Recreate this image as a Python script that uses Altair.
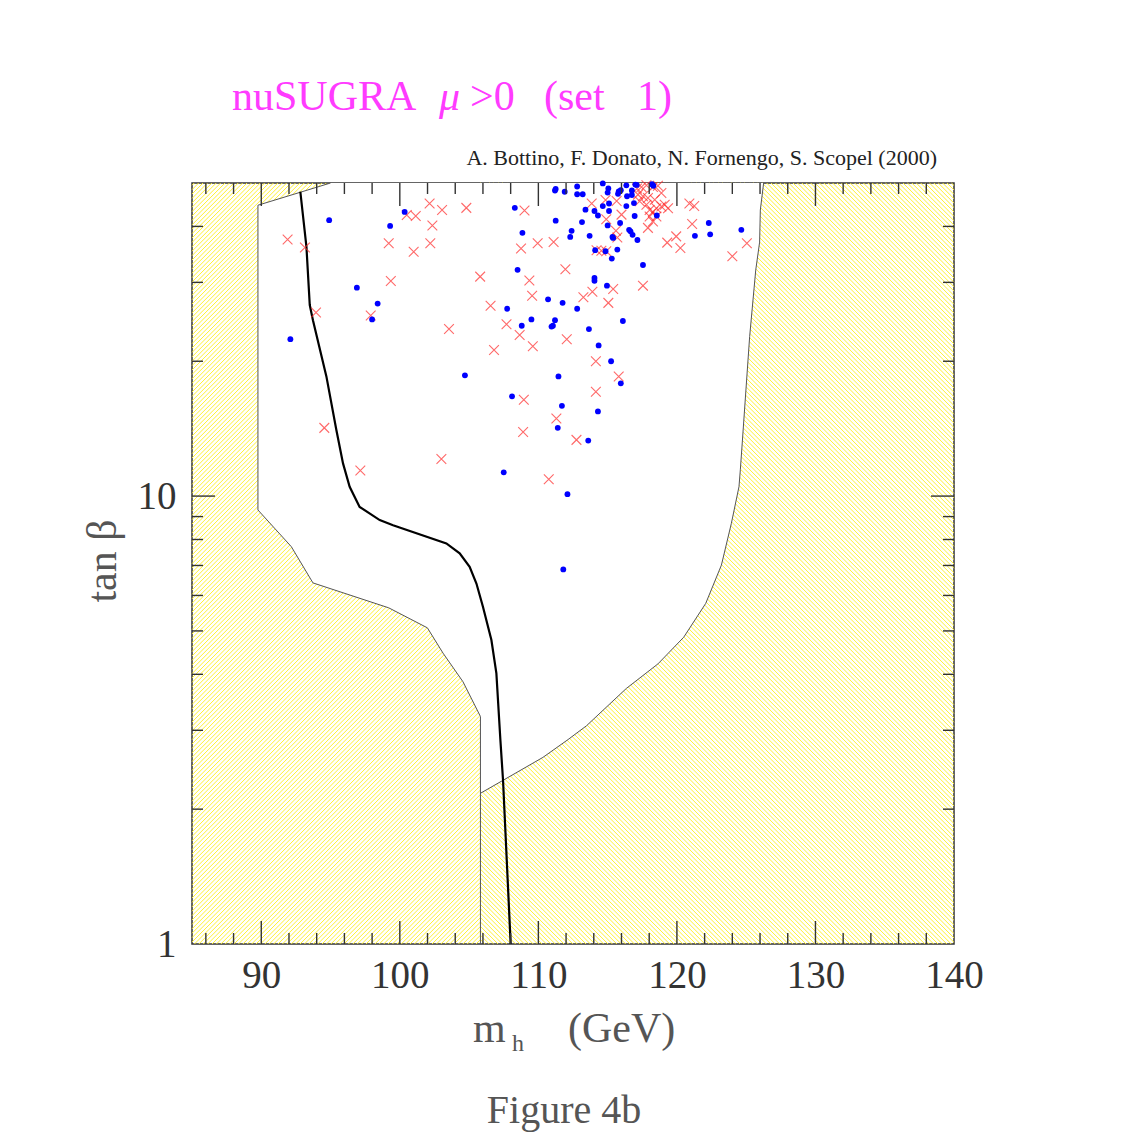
import altair as alt
import pandas as pd
import numpy as np

# ---------------- data ----------------
# blue dots (m_h [GeV], tan beta)
blue_mh = [94.9, 100.35, 99.3, 96.9, 98.4, 98.0, 92.1, 104.7, 108.3, 111.25,
           108.85, 112.4, 112.3, 108.5, 110.7, 111.75, 107.75, 112.8, 109.5, 108.8,
           111.2, 111.05, 110.95, 111.45, 108.1, 111.7, 111.4, 111.2, 111.25, 111.9,
           112.8, 112.8, 113.2, 114.65, 115.05, 115.0, 115.8, 115.75, 115.95, 116.35,
           116.75, 116.75, 116.4, 117.0, 117.1, 118.3, 118.2, 114.65, 115.1, 116.35,
           116.9, 113.4, 114.05, 114.3, 115.1, 116.95, 118.55, 113.15, 115.0, 115.9,
           113.7, 115.35, 115.4, 116.55, 116.65, 116.8, 117.15, 114.1, 114.85, 115.7,
           115.3, 117.55, 114.05, 114.05, 114.95, 113.65, 116.1, 114.35, 115.25, 115.95,
           114.3, 113.6, 122.3, 122.4, 121.3, 124.65, 107.5, 112.1, 111.8]
blue_tb = [41.3, 43.1, 40.1, 29.2, 26.9, 24.8, 22.4, 18.6, 44.0, 41.2,
           38.7, 39.1, 37.9, 32.0, 27.5, 27.0, 26.2, 26.2, 24.8, 24.0,
           24.7, 24.0, 23.9, 18.5, 16.7, 15.9, 14.2, 48.1, 48.5, 47.8,
           49.1, 47.2, 47.2, 49.9, 48.6, 47.6, 47.9, 47.3, 48.2, 49.4,
           48.1, 47.0, 46.7, 49.6, 49.5, 49.3, 49.7, 44.4, 45.0, 44.4,
           45.1, 43.6, 43.3, 42.3, 43.3, 42.2, 42.3, 40.9, 40.2, 40.7,
           38.1, 37.9, 37.7, 39.3, 39.0, 38.3, 37.3, 35.4, 35.2, 35.5,
           33.9, 32.8, 30.7, 30.25, 29.5, 23.6, 24.6, 21.7, 20.0, 17.85,
           15.45, 13.3, 40.7, 38.4, 38.1, 39.3, 11.3, 10.1, 6.86]

# red crosses (m_h [GeV], tan beta)
red_mh = [91.9, 93.15, 102.15, 103.05, 104.8, 100.5, 101.15, 102.35, 99.2, 101.0,
          102.2, 99.35, 105.8, 109.0, 108.75, 109.95, 111.1, 111.95, 109.35, 109.55,
          93.95, 97.9, 106.55, 107.7, 108.65, 109.6, 112.05, 103.55, 106.8, 94.55,
          108.95, 111.3, 108.9, 112.75, 103.0, 97.15, 110.75, 113.85, 114.85, 115.65,
          116.0, 114.9, 115.6, 115.7, 114.2, 114.55, 114.9, 113.9, 113.25, 115.4,
          115.05, 117.55, 114.15, 115.8, 114.15, 119.3, 119.95, 120.25, 121.1, 120.9,
          121.25, 124.0, 125.05, 117.12, 117.44, 117.8, 118.27, 118.63, 118.88, 117.19,
          117.55, 117.91, 118.4, 117.31, 117.8, 118.03, 118.27, 118.52, 118.88, 119.12,
          119.36, 118.03, 118.52, 118.27, 117.91]
red_tb = [37.4, 35.9, 45.0, 43.5, 44.0, 42.4, 42.2, 40.2, 36.7, 35.1,
          36.7, 30.2, 30.9, 43.4, 35.7, 36.7, 36.9, 32.1, 30.3, 28.0,
          25.7, 25.3, 26.6, 24.2, 22.9, 21.6, 22.4, 23.6, 21.2, 14.2,
          16.4, 14.9, 13.9, 13.35, 12.1, 11.4, 10.9, 45.0, 45.8, 45.6,
          42.5, 41.5, 39.1, 37.8, 35.4, 35.3, 35.2, 28.6, 27.8, 29.0,
          27.0, 29.5, 20.0, 18.5, 17.1, 36.8, 38.0, 35.8, 40.5, 45.0,
          44.4, 34.3, 36.7, 48.6, 49.0, 49.4, 49.0, 49.3, 47.5, 47.1,
          46.7, 46.3, 45.9, 45.5, 44.7, 43.5, 43.1, 43.9, 44.3, 44.7,
          43.9, 42.1, 42.1, 41.0, 39.7]

# thick black curve
curve_mh = [92.82, 93.26, 93.5, 93.73, 94.7, 95.42, 95.9, 96.38, 97.1, 98.55,
            99.51, 103.36, 104.32, 105.04, 105.53, 106.0, 106.61, 106.97, 107.26, 107.45, 108.0]
curve_tb = [47.8, 36.0, 26.7, 24.7, 18.5, 14.04, 11.83, 10.49, 9.46, 8.84,
            8.61, 7.84, 7.45, 6.95, 6.38, 5.66, 4.77, 4.02, 2.85, 2.32, 1.0]

# boundary of the excluded (hatched) region on the left
left_mh = [95.0, 89.76, 89.76, 92.17, 93.73, 99.2, 101.99, 103.12, 104.56, 105.82, 105.82]
left_tb = [50.0, 44.6, 9.31, 7.71, 6.40, 5.63, 5.08, 4.46, 3.85, 3.22, 1.0]
# boundary of the excluded (hatched) region on the right
right_mh = [105.82, 110.33, 112.14, 113.47, 116.35, 118.63, 120.49, 122.08, 123.21, 123.93,
            124.48, 124.58, 124.73, 125.25, 125.69, 125.97, 126.02, 126.26]
right_tb = [2.17, 2.61, 2.86, 3.07, 3.72, 4.22, 4.84, 5.76, 7.01, 8.69,
            10.49, 11.47, 13.34, 22.7, 31.96, 36.9, 43.5, 50.0]
split_mh = 105.82   # vertical line separating the two hatched regions

# axis ticks
x_labels = [90, 100, 110, 120, 130, 140]
x_major = [90, 100, 110, 120, 130]
x_minor = [86, 88, 92, 94, 96, 98, 102, 104, 106, 108, 112, 114, 116, 118,
           122, 124, 126, 128, 132, 134, 136, 138]
y_labels = [1, 10]
y_major = [10]
y_minor = [2, 3, 4, 5, 6, 7, 8, 9, 20, 30, 40]

# ---------------- layout / style ----------------
W, H = 762, 761
XMIN, XMAX = 85, 140
YMIN, YMAX = 1, 50
SERIF = "Liberation Serif"

xs = alt.Scale(domain=[XMIN, XMAX], nice=False, zero=False)
ys = alt.Scale(type="log", domain=[YMIN, YMAX], nice=False)
x_axis = alt.Axis(values=x_labels, domain=False, ticks=False, grid=False, title=None,
                  labelFont=SERIF, labelFontSize=39, labelColor="#333",
                  labelPadding=12, labelFlush=False)
y_axis = alt.Axis(values=y_labels, format="d", domain=False, ticks=False, grid=False,
                  title=None, labelFont=SERIF, labelFontSize=39, labelColor="#333",
                  labelPadding=16)


def X(f):
    return alt.X(f, type="quantitative", scale=xs, axis=x_axis)


def Y(f):
    return alt.Y(f, type="quantitative", scale=ys, axis=y_axis)


# hatch texture (decoration): "/" on the left part, "\" on the right part
LOGMAX = np.log10(YMAX)
XS = (split_mh - XMIN) / (XMAX - XMIN) * W
sp = 4.4
rows = []
for c in np.arange(-XS, H, sp):
    a, b = max(0.0, -c), min(XS, H - c)
    if b > a:
        rows.append((a, a + c, b, b + c))
for c in np.arange(XS, W + H, sp):
    a, b = max(XS, c - H), min(W, c)
    if b > a:
        rows.append((a, c - a, b, c - b))
hr = np.array(rows)
hatch_df = pd.DataFrame({
    "x": XMIN + hr[:, 0] / W * (XMAX - XMIN),
    "y": 10 ** (np.clip(hr[:, 1], 0, H) / H * LOGMAX),
    "x2": XMIN + hr[:, 2] / W * (XMAX - XMIN),
    "y2": 10 ** (np.clip(hr[:, 3], 0, H) / H * LOGMAX),
})
hatch = alt.Chart(hatch_df).mark_rule(stroke="#FFF133", strokeWidth=1.0).encode(
    x=X("x"), y=Y("y"), x2="x2", y2="y2")

# white (allowed) region drawn over the hatch
wa_df = pd.DataFrame({"mh": left_mh[:-1], "tb": left_tb[:-1], "mh2": split_mh + 0.4})
white_a = alt.Chart(wa_df).mark_area(orient="horizontal", color="white", opacity=1).encode(
    y=Y("tb"), x=X("mh"), x2="mh2")
wb_df = pd.DataFrame({"mh": split_mh, "tb": right_tb, "mh2": right_mh})
white_b = alt.Chart(wb_df).mark_area(orient="horizontal", color="white", opacity=1).encode(
    y=Y("tb"), x=X("mh"), x2="mh2")

left_line = alt.Chart(pd.DataFrame({"mh": left_mh, "tb": left_tb, "i": range(len(left_mh))})
                      ).mark_line(color="#555", strokeWidth=1).encode(
    x=X("mh"), y=Y("tb"), order="i:Q")
right_line = alt.Chart(pd.DataFrame({"mh": right_mh, "tb": right_tb, "i": range(len(right_mh))})
                       ).mark_line(color="#555", strokeWidth=1).encode(
    x=X("mh"), y=Y("tb"), order="i:Q")
curve = alt.Chart(pd.DataFrame({"mh": curve_mh, "tb": curve_tb, "i": range(len(curve_mh))})
                  ).mark_line(color="black", strokeWidth=2.2).encode(
    x=X("mh"), y=Y("tb"), order="i:Q")

reds = alt.Chart(pd.DataFrame({"mh": red_mh, "tb": red_tb})).mark_point(
    shape="M-1,-1L1,1M1,-1L-1,1", size=95, filled=False, stroke="#FF2A2A",
    strokeWidth=1.1, opacity=0.7).encode(x=X("mh"), y=Y("tb"))
blues = alt.Chart(pd.DataFrame({"mh": blue_mh, "tb": blue_tb})).mark_circle(
    size=34, color="#0000FF", opacity=1).encode(x=X("mh"), y=Y("tb"))


def xticks(vals, length):
    d = pd.DataFrame({"v": vals})
    bot = alt.Chart(d).mark_rule(color="#333", strokeWidth=1.4).encode(
        x=X("v"), y=alt.value(H), y2=alt.value(H - length))
    top = alt.Chart(d).mark_rule(color="#333", strokeWidth=1.4).encode(
        x=X("v"), y=alt.value(0), y2=alt.value(length))
    return [bot, top]


def yticks(vals, length):
    d = pd.DataFrame({"v": vals})
    lft = alt.Chart(d).mark_rule(color="#333", strokeWidth=1.4).encode(
        y=Y("v"), x=alt.value(0), x2=alt.value(length))
    rgt = alt.Chart(d).mark_rule(color="#333", strokeWidth=1.4).encode(
        y=Y("v"), x=alt.value(W), x2=alt.value(W - length))
    return [lft, rgt]


def label(txt, x, y, size, color, align="left", baseline="alphabetic", angle=0,
          style="normal"):
    return alt.Chart(pd.DataFrame({"t": [txt]})).mark_text(
        text=txt, font=SERIF, fontSize=size, color=color, align=align,
        baseline=baseline, angle=angle, fontStyle=style).encode(
        x=alt.value(x), y=alt.value(y))


MAG = "#FF3BFF"
texts = [
    label("nuSUGRA", 40, -73, 42, MAG),
    label("μ", 247, -73, 42, MAG, style="italic"),
    label(">0", 278, -73, 42, MAG),
    label("(set", 352, -73, 42, MAG),
    label("1)", 445, -73, 42, MAG),
    label("A. Bottino, F. Donato, N. Fornengo, S. Scopel (2000)", 745, -18, 22,
          "#222", align="right"),
    label("m", 281, 859, 42, "#555"),
    label("h", 320, 868, 24, "#555"),
    label("(GeV)", 376, 859, 42, "#555"),
    label("Figure 4b", 372, 940, 40, "#555", align="center"),
    label("tan β", -89, 378, 42, "#555", align="center", baseline="middle", angle=270),
]

layers = ([hatch, white_a, white_b, left_line, right_line, curve, reds, blues]
          + xticks(x_major, 23) + xticks(x_minor, 11)
          + yticks(y_major, 23) + yticks(y_minor, 11) + texts)

chart = alt.layer(*layers).properties(
    width=W, height=H,
    autosize=alt.AutoSizeParams(type="none"),
    padding={"left": 184, "top": 175, "right": 50, "bottom": 196},
    background="white",
).configure_view(stroke="#333", strokeWidth=1.5)

chart.save("out.html", embed_options={"renderer": "svg", "actions": False})
